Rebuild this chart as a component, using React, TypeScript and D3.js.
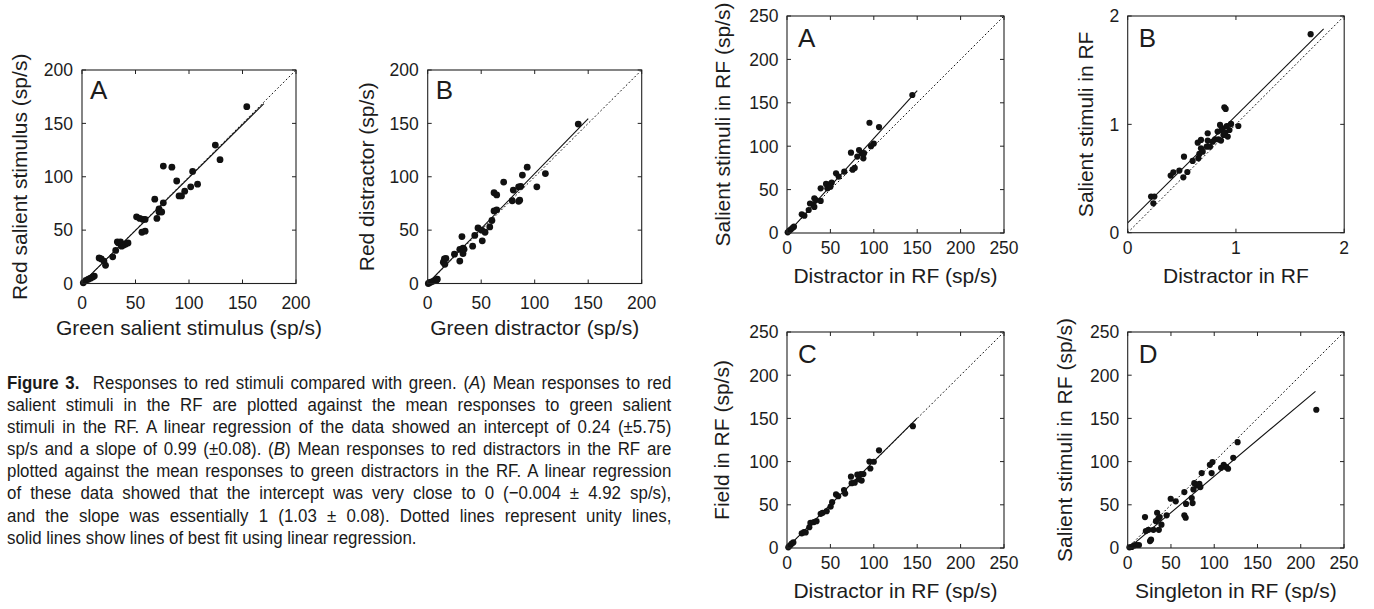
import React, { useLayoutEffect, useRef, useState } from 'react';
import * as d3 from 'd3';

// ---------- Figure 3 (left) ----------
const fig3A_x = [1.2, 3.7, 6, 8, 10, 11.5, 16, 18, 20.5, 22, 28.7, 31.5, 33, 34, 36, 37, 39, 41, 43, 51, 54, 57, 59, 56, 59, 68, 70, 72, 72, 74.5, 76, 76, 84, 88.5, 90.7, 93, 96, 101.6, 103.4, 108, 124.6, 129, 154];
const fig3A_y = [0.6, 3, 4, 5, 6, 7, 24, 23, 21, 17, 25, 31, 39, 38, 39, 35, 36, 37, 38, 62.5, 61, 60, 60, 48, 49, 79, 61, 70, 67, 67, 75.6, 110, 109, 96, 82, 82, 86.5, 90.6, 105, 93, 129.7, 116, 165.6];
const fig3A_fit = { intercept: 0.24, slope: 0.99, xEnd: 170 };

const fig3B_x = [0.6, 2, 3.7, 6, 8, 9, 14.6, 15.6, 17, 16, 25, 30, 30, 32, 33, 33, 34, 42, 44, 47, 50.5, 51, 53.6, 58, 60, 62, 64.5, 62, 64.5, 71, 79, 80, 85, 86, 85, 87, 88.5, 93, 102, 110, 140.7];
const fig3B_y = [0, 1, 1.6, 2.5, 3, 4, 20, 23, 23.4, 18, 27.5, 21, 32, 44, 33, 28, 32, 35, 45, 52, 50, 40, 48, 53, 59, 85, 83, 68, 69, 95, 77.5, 87.5, 77, 78, 90.6, 91, 101.6, 109, 90.6, 103, 149.3];
const fig3B_fit = { intercept: -0.004, slope: 1.03, xEnd: 150 };

// ---------- Figure 4 (right) ----------
const fig4A_x = [0.8, 2.7, 4.6, 6.5, 8, 17, 20, 25, 26.5, 30, 31.5, 33.4, 31.5, 38.8, 38.8, 45, 46.5, 48.8, 51.5, 50, 56.5, 59.5, 66, 73.7, 75.6, 78, 81, 83, 86, 88, 88.7, 95, 96.8, 100, 106, 144.4];
const fig4A_y = [0.8, 2.7, 4.2, 6, 7.3, 21.5, 20, 26.5, 34, 33, 40, 38, 30, 37, 51.5, 56.5, 51.5, 56, 58, 53.4, 68.7, 65, 70.7, 92.5, 73, 75, 88, 95.6, 92, 86, 92, 127, 100, 103, 122, 159];
const fig4A_fit = { intercept: -1, slope: 1.1, xEnd: 150 };

const fig4B_x = [0.216, 0.246, 0.237, 0.397, 0.422, 0.477, 0.514, 0.52, 0.551, 0.6, 0.647, 0.653, 0.662, 0.677, 0.677, 0.693, 0.73, 0.739, 0.739, 0.76, 0.785, 0.807, 0.831, 0.838, 0.853, 0.862, 0.868, 0.878, 0.884, 0.893, 0.905, 0.9, 0.915, 0.924, 0.94, 0.955, 1.022, 1.69];
const fig4B_y = [0.333, 0.333, 0.271, 0.527, 0.557, 0.573, 0.511, 0.702, 0.56, 0.662, 0.831, 0.687, 0.727, 0.856, 0.779, 0.748, 0.794, 0.85, 0.918, 0.794, 0.84, 0.862, 0.933, 0.862, 0.995, 0.85, 0.948, 0.964, 0.902, 1.158, 1.142, 0.924, 0.985, 0.887, 0.948, 1.004, 0.985, 1.832];
const fig4B_fit = { intercept: 0.09, slope: 0.99, xEnd: 1.81 };

const fig4C_x = [1.5, 3.5, 5.4, 7.3, 17, 19.6, 21.5, 25.7, 27, 31, 34, 38.8, 41, 45.7, 50.3, 52, 56.5, 59, 65.7, 67, 73.7, 74.5, 78, 81, 83, 85, 88, 86, 95, 96, 100, 106, 145];
const fig4C_y = [0.8, 3, 5, 6.5, 17, 18.4, 18, 24, 29, 30, 31, 39.5, 40.7, 42.6, 48, 53, 62, 60, 67, 63, 82.6, 75, 75.6, 84.9, 79.5, 85.6, 85.6, 78, 100, 92, 99.8, 113, 141];
const fig4C_fit = { intercept: 0.3, slope: 1.0, xEnd: 150 };

const fig4D_x = [2, 4.6, 7.3, 10.4, 13, 20, 21, 24, 25.8, 27, 29.7, 32.7, 34, 35.4, 36, 37, 39, 45, 49.7, 55.5, 65.5, 65.5, 67, 67.4, 74, 75, 76, 77, 79.7, 82.8, 84, 85.5, 95, 97, 98, 108, 111, 114, 116, 122, 127, 218];
const fig4D_y = [0.8, 1.2, 3, 3.5, 3.5, 35.8, 19.6, 21, 8, 9.6, 21, 31, 40.8, 33.9, 21, 35.8, 27, 37.8, 57, 54, 64.7, 37.8, 35, 51, 57.8, 52, 67.8, 75, 72.4, 74.3, 70.5, 86.7, 96.3, 86.7, 99.4, 92.8, 96.3, 93.6, 91.7, 104.4, 122.5, 160];
const fig4D_fit = { intercept: -1, slope: 0.84, xEnd: 217 };

const ticks200 = [0, 50, 100, 150, 200];
const ticks250 = [0, 50, 100, 150, 200, 250];
const ticks2 = [0, 1, 2];

const captionLines = [
  '**Figure 3.**\u00A0 Responses to red stimuli compared with green. (_A_) Mean responses to red',
  'salient stimuli in the RF are plotted against the mean responses to green salient',
  'stimuli in the RF. A linear regression of the data showed an intercept of 0.24 (\u00B15.75)',
  'sp/s and a slope of 0.99 (\u00B10.08). (_B_) Mean responses to red distractors in the RF are',
  'plotted against the mean responses to green distractors in the RF. A linear regression',
  'of these data showed that the intercept was very close to 0 (\u22120.004 \u00B1 4.92 sp/s),',
  'and the slope was essentially 1 (1.03 \u00B1 0.08). Dotted lines represent unity lines,',
  'solid lines show lines of best fit using linear regression.',
];

const SANS = 'Liberation Sans, Arial, Helvetica, sans-serif';
const NARROW = '"Liberation Sans Narrow", "Arial Narrow", "Liberation Sans", Arial, sans-serif';
const INK = '#1c1c1c';

type Fit = { intercept: number; slope: number; xEnd: number };

type PanelProps = {
  left: number; top: number; w: number; h: number; max: number; ticks: number[];
  xs: number[]; ys: number[]; fit: Fit; letter: string; xLabel: string; yLabel: string;
  r: number; tickFs: number; labelFs: number; xTickOff: number; yTickOff: number;
  xLabelOff: number; yLabelOff: number; letterDx: number; letterDy: number;
};

function Panel(p: PanelProps) {
  const x = d3.scaleLinear().domain([0, p.max]).range([p.left, p.left + p.w]);
  const y = d3.scaleLinear().domain([0, p.max]).range([p.top + p.h, p.top]);
  const line = d3.line<[number, number]>().x(d => x(d[0])).y(d => y(d[1]));
  const unity = line([[0, 0], [p.max, p.max]]) || '';
  const fitPath = line([[0, p.fit.intercept], [p.fit.xEnd, p.fit.intercept + p.fit.slope * p.fit.xEnd]]) || '';
  const tl = 4;
  const bottom = p.top + p.h;
  const right = p.left + p.w;
  const cx = p.left + p.w / 2;
  const cy = p.top + p.h / 2;
  const cid = 'clip' + Math.round(p.left) + '_' + Math.round(p.top);
  return (
    <g>
      <defs>
        <clipPath id={cid}>
          <rect x={p.left} y={p.top} width={p.w} height={p.h} />
        </clipPath>
      </defs>
      <g clipPath={`url(#${cid})`}>
        <path d={unity} fill="none" stroke="#111" strokeWidth={1} strokeDasharray="1.8,2.2" />
        <path d={fitPath} fill="none" stroke="#111" strokeWidth={1.1} />
      </g>
      {p.xs.map((v, i) => (
        <circle key={i} cx={x(v)} cy={y(p.ys[i])} r={p.r} fill="#111" />
      ))}
      <rect x={p.left} y={p.top} width={p.w} height={p.h} fill="none" stroke="#222" strokeWidth={1.1} />
      {p.ticks.map(t => (
        <g key={'t' + t} stroke="#222" strokeWidth={1}>
          <line x1={x(t)} x2={x(t)} y1={bottom} y2={bottom - tl} />
          <line x1={x(t)} x2={x(t)} y1={p.top} y2={p.top + tl} />
          <line x1={p.left} x2={p.left + tl} y1={y(t)} y2={y(t)} />
          <line x1={right} x2={right - tl} y1={y(t)} y2={y(t)} />
        </g>
      ))}
      {p.ticks.map(t => (
        <text key={'xl' + t} x={x(t)} y={bottom + p.xTickOff} textAnchor="middle" fontFamily={SANS} fontSize={p.tickFs} fill={INK}>{t}</text>
      ))}
      {p.ticks.map(t => (
        <text key={'yl' + t} x={p.left - p.yTickOff} y={y(t)} dy="0.36em" textAnchor="end" fontFamily={SANS} fontSize={p.tickFs} fill={INK}>{t}</text>
      ))}
      <text x={cx} y={bottom + p.xLabelOff} textAnchor="middle" fontFamily={SANS} fontSize={p.labelFs} fill={INK}>{p.xLabel}</text>
      <text transform={`translate(${p.left - p.yLabelOff},${cy}) rotate(-90)`} textAnchor="middle" fontFamily={SANS} fontSize={p.labelFs} fill={INK}>{p.yLabel}</text>
      <text x={p.left + p.letterDx} y={p.top + p.letterDy} fontFamily={SANS} fontSize={26} fill={INK}>{p.letter}</text>
    </g>
  );
}

function parseSegments(s: string) {
  const parts = s.split(/(\*\*.+?\*\*|_.+?_)/).filter(t => t.length > 0);
  return parts.map(t => {
    if (t.startsWith('**')) return { text: t.slice(2, -2), bold: true, italic: false };
    if (t.startsWith('_') && t.endsWith('_') && t.length > 2) return { text: t.slice(1, -1), bold: false, italic: true };
    return { text: t, bold: false, italic: false };
  });
}

const CAP_X = 7;
const CAP_W = 665;
const CAP_LAST_W = 410;
const CAP_Y0 = 389;
const CAP_LH = 22.1;
const CAP_FS = 18.5;

function Caption() {
  const refs = useRef<(SVGTextElement | null)[]>([]);
  const [layout, setLayout] = useState<{ s: number; ws: number[] } | null>(null);
  useLayoutEffect(() => {
    const widths = refs.current.map(e => (e ? e.getComputedTextLength() : 1));
    const last = captionLines.length - 1;
    const s = CAP_LAST_W / widths[last];
    const ws = widths.map((w, i) => {
      if (i === last) return 0;
      const plain = parseSegments(captionLines[i]).map(g => g.text).join('');
      const n = (plain.match(/[ \u00A0]/g) || []).length;
      return (CAP_W / s - w) / n;
    });
    setLayout({ s, ws });
  }, []);
  const s = layout ? layout.s : 1;
  return (
    <g transform={`translate(${CAP_X},0) scale(${s},1)`}>
      {captionLines.map((ln, i) => (
        <text
          key={i}
          ref={el => { refs.current[i] = el; }}
          x={0}
          y={CAP_Y0 + i * CAP_LH}
          fontFamily={NARROW}
          fontSize={CAP_FS}
          fill="#1a1a1a"
          style={{ wordSpacing: layout ? `${layout.ws[i]}px` : '0px' }}
        >
          {parseSegments(ln).map((g, j) => (
            <tspan key={j} fontWeight={g.bold ? 'bold' : 'normal'} fontStyle={g.italic ? 'italic' : 'normal'}>{g.text}</tspan>
          ))}
        </text>
      ))}
    </g>
  );
}

export default function App() {
  const leftCommon = { w: 214, h: 213.5, top: 70, max: 200, ticks: ticks200, r: 3.4, tickFs: 17.5, labelFs: 21, xTickOff: 25.5, yTickOff: 9, xLabelOff: 51, letterDx: 8, letterDy: 29 };
  const rightCommon = { r: 3.1, tickFs: 17.5, labelFs: 21, xTickOff: 21, yTickOff: 8.5, xLabelOff: 50, letterDx: 11, letterDy: 31 };
  return (
    <svg width={1374} height={609} style={{ position: 'absolute', left: 0, top: 0, background: '#fff' }}>
      <rect width={1374} height={609} fill="#fff" />
      <Panel {...leftCommon} left={82} xs={fig3A_x} ys={fig3A_y} fit={fig3A_fit} letter="A"
        xLabel="Green salient stimulus (sp/s)" yLabel="Red salient stimulus (sp/s)" yLabelOff={55.3} />
      <Panel {...leftCommon} left={427.7} xs={fig3B_x} ys={fig3B_y} fit={fig3B_fit} letter="B"
        xLabel="Green distractor (sp/s)" yLabel="Red distractor (sp/s)" yLabelOff={54.2} />
      <Panel {...rightCommon} left={787} top={16} w={217} h={217} max={250} ticks={ticks250}
        xs={fig4A_x} ys={fig4A_y} fit={fig4A_fit} letter="A"
        xLabel="Distractor in RF (sp/s)" yLabel="Salient stimuli in RF (sp/s)" yLabelOff={57.5} />
      <Panel {...rightCommon} left={1127.7} top={16} w={216.5} h={216.7} max={2} ticks={ticks2}
        xs={fig4B_x} ys={fig4B_y} fit={fig4B_fit} letter="B"
        xLabel="Distractor in RF" yLabel="Salient stimuli in RF" yLabelOff={34.7} />
      <Panel {...rightCommon} left={787} top={332} w={217} h={216} max={250} ticks={ticks250}
        xs={fig4C_x} ys={fig4C_y} fit={fig4C_fit} letter="C"
        xLabel="Distractor in RF (sp/s)" yLabel="Field in RF (sp/s)" yLabelOff={58.5} />
      <Panel {...rightCommon} left={1127.7} top={332} w={216.3} h={216} max={250} ticks={ticks250}
        xs={fig4D_x} ys={fig4D_y} fit={fig4D_fit} letter="D"
        xLabel="Singleton in RF (sp/s)" yLabel="Salient stimuli in RF (sp/s)" yLabelOff={56} />
      <Caption />
    </svg>
  );
}
